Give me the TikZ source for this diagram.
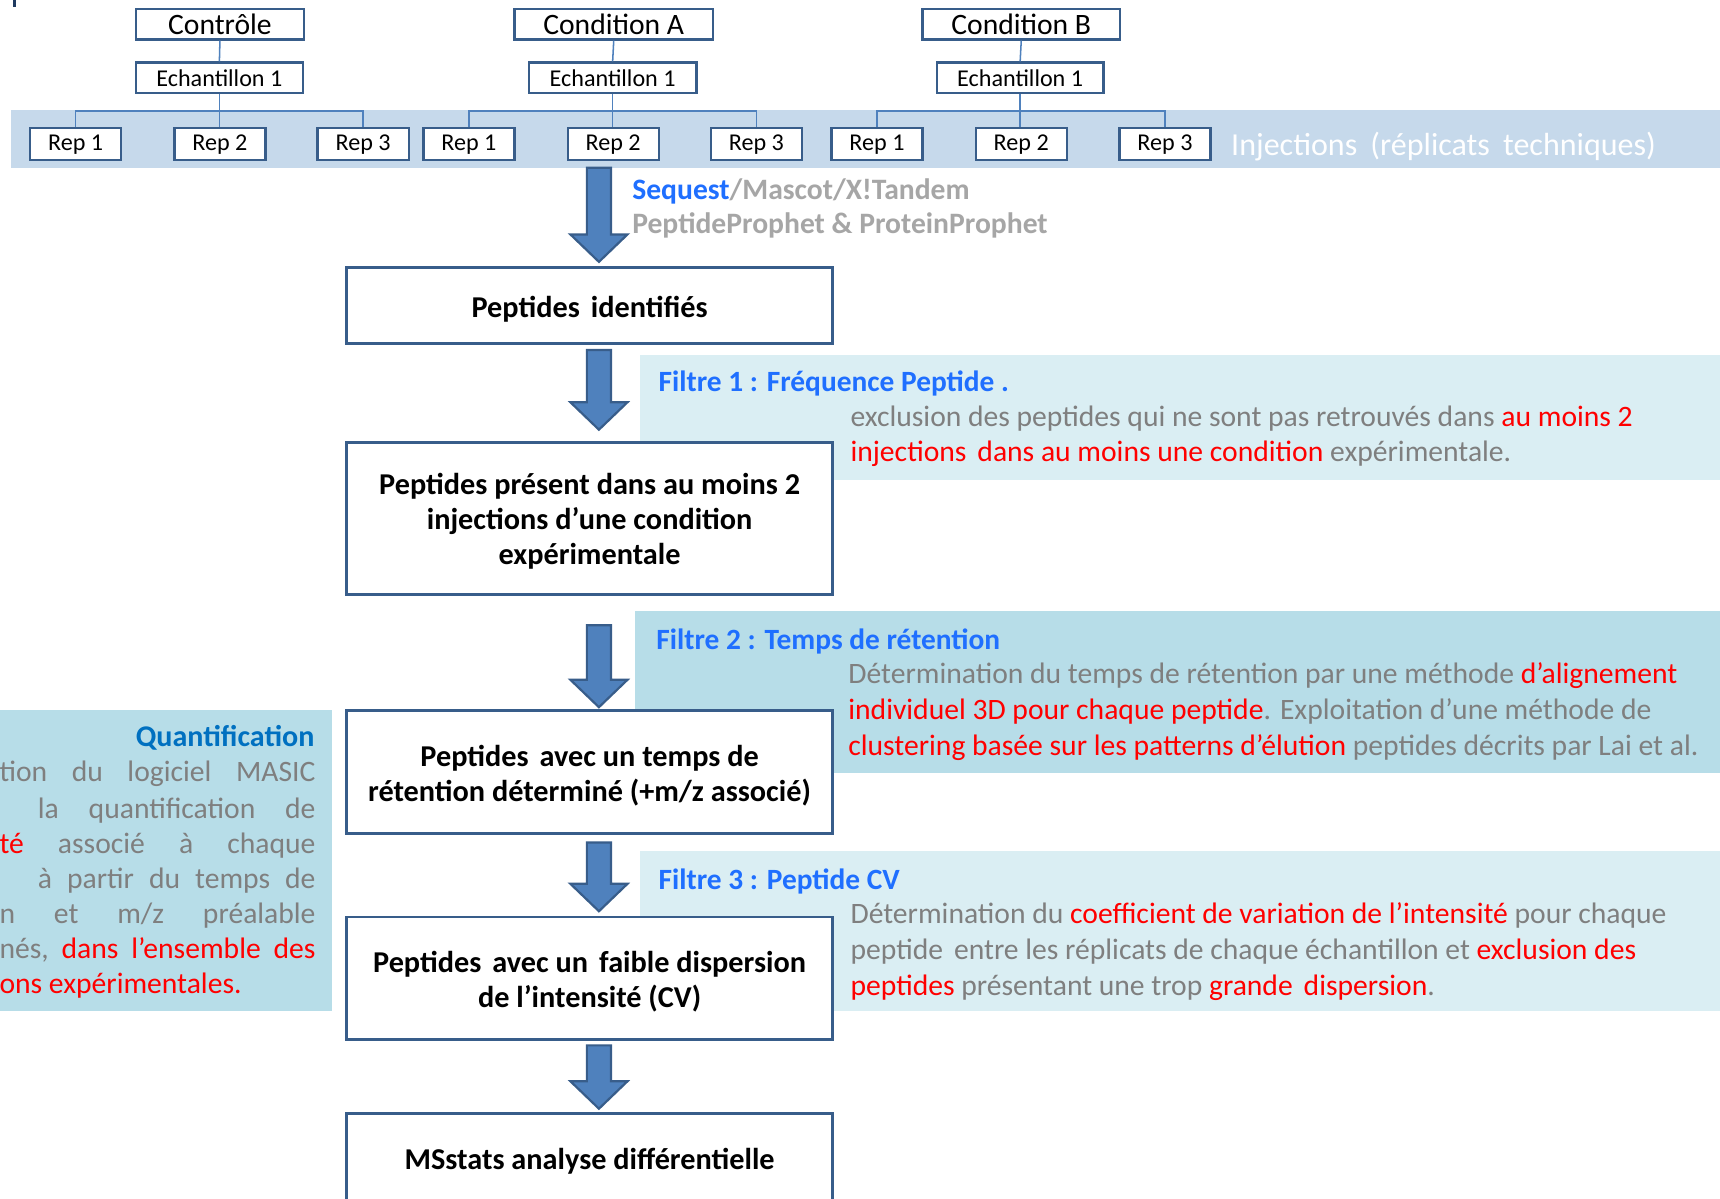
\documentclass[tikz,border=0pt]{standalone}
\usepackage{fontspec}
\setmainfont{Carlito}
\usetikzlibrary{calc}
\definecolor{boxline}{HTML}{385D8A}
\definecolor{arrowfill}{HTML}{4F81BD}
\definecolor{band}{HTML}{C6D9EB}
\definecolor{panellight}{HTML}{DAEEF3}
\definecolor{panelmid}{HTML}{B7DDE8}
\definecolor{titleblue}{HTML}{1F6FFF}
\definecolor{quantblue}{HTML}{0070C0}
\definecolor{greytext}{HTML}{7F7F7F}
\definecolor{lightgrey}{HTML}{A6A6A6}
\definecolor{redtext}{HTML}{FF0000}
\definecolor{navy}{HTML}{1F3A60}
\newcommand\blockarr[2]{%
 \filldraw[blockarrow] let \p1=(#1), \p2=(#2) in
  (\x1-5.5pt,\y1) -- (\x1+5.5pt,\y1) -- (\x1+5.5pt,\y2+12.5pt) -- (\x1+13pt,\y2+12.5pt)
  -- (\x1,\y2) -- (\x1-13pt,\y2+12.5pt) -- (\x1-5.5pt,\y2+12.5pt) -- cycle;}
\newcommand\rd[1]{{\color{redtext}#1}}
\begin{document}
\begin{tikzpicture}[x=0.5pt,y=-0.5pt,
  topbox/.style={draw=boxline,line width=1pt,fill=white,inner sep=0pt,minimum height=14pt,font=\fontsize{13.5}{16}\selectfont},
  echbox/.style={topbox,font=\fontsize{11}{13}\selectfont},
  repbox/.style={topbox,minimum width=41.5pt,minimum height=14.5pt,font=\fontsize{11}{13}\selectfont},
  conn/.style={draw=arrowfill,line width=0.7pt},
  mainbox/.style={draw=boxline,line width=1.3pt,fill=white,minimum width=221.5pt,inner sep=0pt},
  boxtext/.style={inner sep=0pt,align=center,yshift=-1.5pt,font=\bfseries\fontsize{13.8}{16}\selectfont},
  blockarrow/.style={fill=arrowfill,draw=boxline,line width=1pt,line join=miter},
  ftitle/.style={anchor=mid west,inner sep=0pt,yshift=-2pt,font=\bfseries\fontsize{13.4}{16}\selectfont,text=titleblue},
  body/.style={anchor=mid west,inner sep=0pt,yshift=-2pt,font=\fontsize{13.5}{16}\selectfont,text=greytext},
  qline/.style={anchor=mid east,inner sep=0pt,yshift=-2pt,font=\fontsize{13.5}{16}\selectfont,text=greytext},
]
\clip (0,0) rectangle (1568,1093);
\fill[white] (0,0) rectangle (1568,1093);
\fill[navy] (12,0) rectangle (15,6);

% band of injections
\fill[band] (10,100) rectangle (1568,153);

% panels
\fill[panellight] (583,324) rectangle (1568,438);
\fill[panelmid] (579,557) rectangle (1568,705);
\fill[panellight] (583,776) rectangle (1568,922);
\fill[panelmid] (0,647) rectangle (303,922);

% top tree
\node[topbox,minimum width=76.5pt] (c1) at (200.5,22) {Contrôle};
\node[topbox,minimum width=90.5pt] (c2) at (559.5,22) {Condition A};
\node[topbox,minimum width=90pt] (c3) at (931,22) {Condition B};
\node[echbox,minimum width=76pt] (e1) at (200,71) {Echantillon 1};
\node[echbox,minimum width=76.5pt] (e2) at (558.5,71) {Echantillon 1};
\node[echbox,minimum width=76pt] (e3) at (930,71) {Echantillon 1};
\node[repbox] (r11) at (69,131.5) {Rep 1};
\node[repbox] (r12) at (200.5,131.5) {Rep 2};
\node[repbox] (r13) at (331,131.5) {Rep 3};
\node[repbox] (r21) at (427.5,131.5) {Rep 1};
\node[repbox] (r22) at (559,131.5) {Rep 2};
\node[repbox] (r23) at (689.5,131.5) {Rep 3};
\node[repbox] (r31) at (799.5,131.5) {Rep 1};
\node[repbox] (r32) at (931,131.5) {Rep 2};
\node[repbox] (r33) at (1062,131.5) {Rep 3};
\foreach \c/\e/\a/\b/\m in {c1/e1/r11/r13/r12,c2/e2/r21/r23/r22,c3/e3/r31/r33/r32}{
  \draw[conn] (\c.south) -- (\e.north);
  \draw[conn] (\e.south) -- (\e.south |- \m.north);
  \draw[conn] (\a.north) -- ++(0,-15) -| (\b.north);
}
\node[anchor=mid west,inner sep=0pt,yshift=-3pt,text=white,font=\fontsize{14.6}{17}\selectfont] (inj) at (1122,131) {Injections\hspace{6pt}(réplicats\hspace{6pt}techniques)};

% software text
\node[anchor=mid west,inner sep=0pt,yshift=-2pt,text=lightgrey,font=\bfseries\fontsize{13.5}{16}\selectfont] (soft1) at (576,173) {{\color{titleblue}Sequest}/Mascot/X!Tandem};
\node[anchor=mid west,inner sep=0pt,yshift=-2pt,text=lightgrey,font=\bfseries\fontsize{13.5}{16}\selectfont] (soft2) at (576,204) {PeptideProphet \& ProteinProphet};

% main boxes
\node[mainbox,minimum height=34.5pt] (b1) at (537.5,278.5) {};
\node[mainbox,minimum height=69.5pt] (b2) at (537.5,472.5) {};
\node[mainbox,minimum height=56pt] (b3) at (537.5,704) {};
\node[mainbox,minimum height=56pt] (b4) at (537.5,892) {};
\node[mainbox,minimum height=41pt] (b5) at (537.5,1056) {};
\node[boxtext] (b1t) at (b1.center) {Peptides\hspace{5pt}identifiés};
\node[boxtext] (b2t) at (b2.center) {Peptides présent dans au moins 2\\injections d’une condition\\expérimentale};
\node[boxtext] (b3t) at (b3.center) {Peptides\hspace{5pt}avec un temps de\\rétention déterminé (+m/z associé)};
\node[boxtext] (b4t) at (b4.center) {Peptides\hspace{5pt}avec un\hspace{5pt}faible dispersion\\de l’intensité (CV)};
\node[boxtext] (b5t) at (b5.center) {MSstats analyse différentielle};

% block arrows
\coordinate (s1) at (546,153);
\coordinate (s2) at (546,319);
\coordinate (s3) at (546,570);
\coordinate (s4) at (546,768);
\coordinate (s5) at (546,953);
\blockarr{s1}{$(s1 |- b1.north)+(0,-4)$}
\blockarr{s2}{$(s2 |- b2.north)+(0,-10)$}
\blockarr{s3}{$(s3 |- b3.north)+(0,-2)$}
\blockarr{s4}{$(s4 |- b4.north)+(0,-4)$}
\blockarr{s5}{$(s5 |- b5.north)+(0,-3)$}

% Filtre 1
\node[ftitle] (f1) at (600,348) {Filtre 1 : Fréquence Peptide .};
\node[body] (f1a) at (775,380) {exclusion des peptides qui ne sont pas retrouvés dans \rd{au moins 2}};
\node[body] (f1b) at (775,412) {\rd{injections\hspace{5pt}dans au moins une condition} expérimentale.};

% Filtre 2
\node[ftitle] (f2) at (598,583) {Filtre 2 : Temps de rétention};
\node[body] (f2a) at (773,614) {Détermination du temps de rétention par une méthode \rd{d’alignement}};
\node[body] (f2b) at (773,647) {\rd{individuel 3D pour chaque peptide}. Exploitation d’une méthode de};
\node[body] (f2c) at (773,680) {\rd{clustering basée sur les patterns d’élution} peptides décrits par Lai et al.};

% Filtre 3
\node[ftitle] (f3) at (600,802) {Filtre 3 : Peptide CV};
\node[body] (f3a) at (775,833) {Détermination du \rd{coefficient de variation de l’intensité} pour chaque};
\node[body] (f3b) at (775,866) {peptide\hspace{5pt}entre les réplicats de chaque échantillon et \rd{exclusion des}};
\node[body] (f3c) at (775,899) {\rd{peptides} présentant une trop \rd{grande\hspace{5pt}dispersion}.};

% Quantification
\node[anchor=mid east,inner sep=0pt,yshift=-2pt,text=quantblue,font=\bfseries\fontsize{13.7}{16}\selectfont] (q0) at (287,672) {Quantification};
\node[qline] (q1) at (288,704) {\hbox to 144pt{tion\hfill du\hfill logiciel\hfill MASIC}};
\node[qline] (q2) at (288,737) {\hbox to 144pt{\hspace*{17.5pt}la\hfill quantification\hfill de}};
\node[qline] (q3) at (288,769) {\hbox to 144pt{\rd{té}\hfill associé\hfill à\hfill chaque}};
\node[qline] (q4) at (288,801) {\hbox to 144pt{\hspace*{17.5pt}à\hfill partir\hfill du\hfill temps\hfill de}};
\node[qline] (q5) at (288,833) {\hbox to 144pt{n\hfill et\hfill m/z\hfill préalable}};
\node[qline] (q6) at (288,865) {\hbox to 144pt{nés,\hfill \rd{dans}\hfill \rd{l’ensemble}\hfill \rd{des}}};
\node[qline] (q7) at (288,897) {\hbox to 144pt{\rd{ons expérimentales.}\hfill}};
\end{tikzpicture}
\end{document}
